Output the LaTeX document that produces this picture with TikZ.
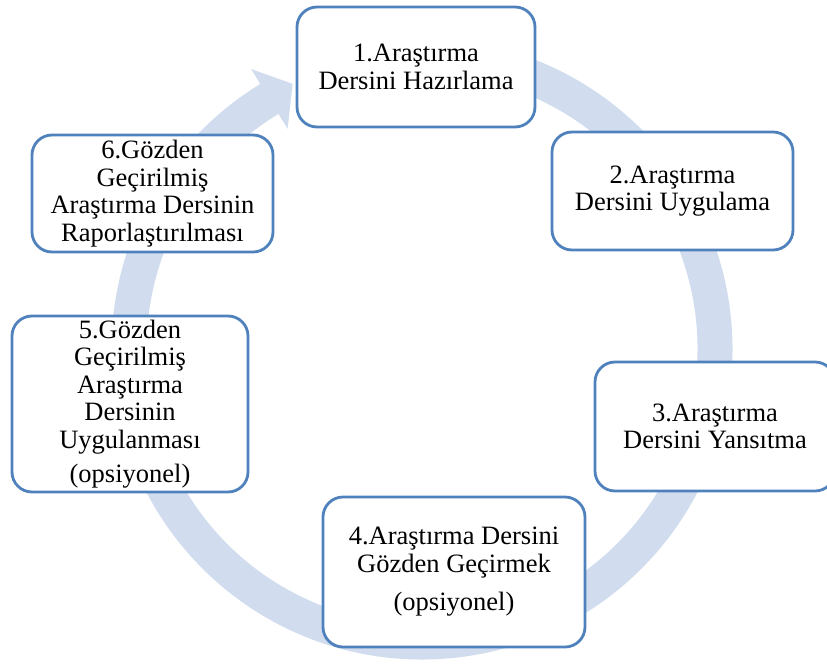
\documentclass[tikz,border=0pt]{standalone}
\usepackage{fontspec}
\setmainfont{Liberation Serif}
\usetikzlibrary{calc}
\definecolor{boxblue}{RGB}{79,129,189}
\definecolor{ringblue}{RGB}{209,221,238}
\begin{document}
\begin{tikzpicture}[x=1pt,y=1pt,
  stage/.style={draw=boxblue, line width=2.8pt, fill=white, rounded corners=20pt,
    inner sep=0pt, align=center, font=\fontsize{26.5}{27.5}\selectfont}]
\useasboundingbox (0,0) rectangle (827,-664);
\clip (0,0) rectangle (827,-664);
\coordinate (c) at (422,-349);
% ring arrow
\fill[ringblue]
  ([shift={(c)}]95:310.5) arc[start angle=95, end angle=-238.6, radius=310.5]
  -- ([shift={(c)}]-238.6:328)
  -- ([shift={(c)}]-244:295)
  -- ([shift={(c)}]-238.6:258)
  -- ([shift={(c)}]-238.6:275.5)
  arc[start angle=-238.6, end angle=95, radius=275.5]
  -- cycle;
% boxes
\node[stage, minimum width=238, minimum height=120] (b1) at (416,-67)
  {1.Araştırma\\Dersini Hazırlama};
\node[stage, minimum width=241, minimum height=118] (b2) at (672.5,-191)
  {2.Araştırma\\Dersini Uygulama};
\node[stage, minimum width=240, minimum height=129] (b3) at (715,-426.5)
  {3.Araştırma\\Dersini Yansıtma};
\node[stage, minimum width=262, minimum height=150] (b4) at (454,-572)
  {4.Araştırma Dersini\\Gözden Geçirmek\\[11pt](opsiyonel)};
\node[stage, minimum width=236, minimum height=176] (b5) at (130,-404)
  {5.Gözden\\Geçirilmiş\\Araştırma\\Dersinin\\Uygulanması\\[6.5pt](opsiyonel)};
\node[stage, minimum width=241, minimum height=117] (b6) at (152.5,-193.5)
  {6.Gözden\\Geçirilmiş\\Araştırma Dersinin\\Raporlaştırılması};
\end{tikzpicture}
\end{document}
